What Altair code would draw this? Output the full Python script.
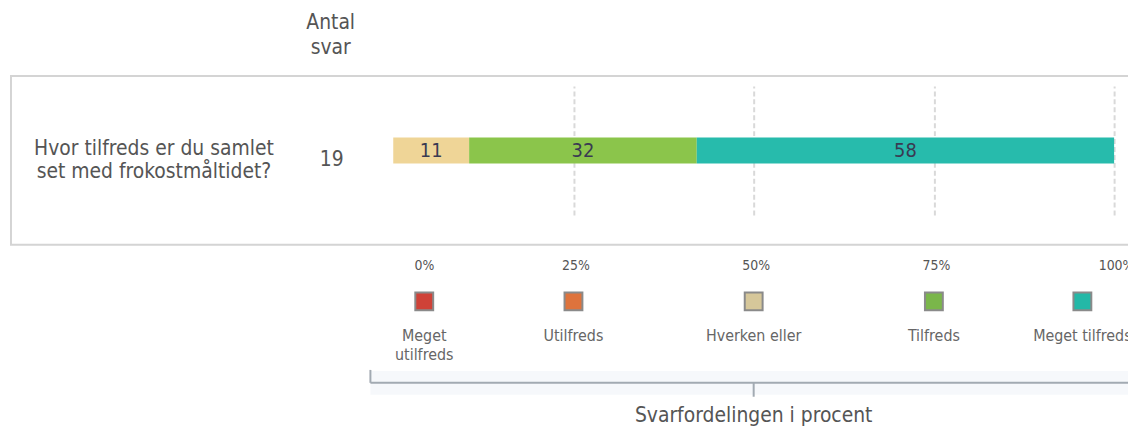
import altair as alt
import pandas as pd

# ---- data ----
question = "Hvor tilfreds er du samlet\nset med frokostmåltidet?"
categories = ["Meget utilfreds", "Utilfreds", "Hverken eller", "Tilfreds", "Meget tilfreds"]
legend_labels = ["Meget\nutilfreds", "Utilfreds", "Hverken eller", "Tilfreds", "Meget tilfreds"]
counts = [0, 0, 2, 6, 11]
bar_colors = ["#d2453a", "#e0733a", "#efd597", "#8bc54b", "#27bbac"]
legend_colors = ["#cf4238", "#de733c", "#d6c79a", "#7ab64a", "#24b8a7"]
tick_values = [0, 25, 50, 75, 100]
header = "Antal\nsvar"
axis_title = "Svarfordelingen i procent"

n_total = sum(counts)
FONT = "DejaVu Sans Condensed, DejaVu Sans"
TXT = "#555555"

df = pd.DataFrame({
    "q": [question] * len(categories),
    "cat": categories,
    "idx": list(range(len(categories))),
    "count": counts,
})
df["pct"] = df["count"] / n_total * 100
df["label"] = df["pct"].round().astype(int).astype(str)

leg_df = pd.DataFrame({
    "cat": categories,
    "label": legend_labels,
    "idx": list(range(len(categories))),
    "color": legend_colors,
})

info_df = pd.DataFrame({"q": [question], "n": [str(n_total)], "h": [header], "t": [axis_title]})

xscale = alt.Scale(domain=[0, 100], nice=False, zero=False)
yscale = alt.Scale(paddingInner=0.5, paddingOuter=1)

xaxis = alt.Axis(
    values=tick_values,
    labelExpr="datum.value + '%'",
    title=None,
    domain=False,
    ticks=False,
    grid=True,
    gridColor="#d9d9d9",
    gridDash=[5, 3],
    gridWidth=2,
    gridOpacity={"condition": {"test": "datum.value == 0", "value": 0}, "value": 1},
    labelOffset={"condition": {"test": "datum.value == 0", "value": 31}, "value": 2},
    labelPadding=55,
    labelBaseline="alphabetic",
    labelFlush=False,
    labelOverlap=False,
    labelBound=False,
    labelFont=FONT,
    labelFontSize=14,
    labelColor=TXT,
)

# frame box
box = alt.Chart(info_df).mark_rect(fillOpacity=0, stroke="#d4d4d4", strokeWidth=2).encode(
    x=alt.value(-385), x2=alt.value(744), y=alt.value(-10), y2=alt.value(160)
)

base = (
    alt.Chart(df)
    .transform_filter("datum.count > 0")
    .transform_stack(stack="pct", groupby=["q"], sort=[alt.SortField("idx", order="ascending")], as_=["x0", "x1"])
    .transform_calculate(mid="(datum.x0 + datum.x1) / 2")
)

bars = base.mark_bar().encode(
    x=alt.X("x0:Q", scale=xscale, axis=xaxis),
    x2="x1:Q",
    y=alt.Y("q:N", scale=yscale, axis=None),
    color=alt.Color("cat:N", scale=alt.Scale(domain=categories, range=bar_colors), legend=None),
)

bar_text = base.mark_text(font=FONT, fontSize=20, color="#3a3a52", baseline="middle", dy=1).encode(
    x=alt.X("mid:Q", scale=xscale),
    y=alt.Y("q:N", scale=yscale, axis=None),
    text="label:N",
)

q_text = alt.Chart(info_df).mark_text(
    font=FONT, fontSize=21, color=TXT, lineBreak="\n", lineHeight=22.5, align="center", baseline="middle"
).encode(x=alt.value(-241), y=alt.value(64), text="q:N")

n_text = alt.Chart(info_df).mark_text(
    font=FONT, fontSize=21, color=TXT, align="center", baseline="middle"
).encode(x=alt.value(-62), y=alt.value(75), text="n:N")

h_text = alt.Chart(info_df).mark_text(
    font=FONT, fontSize=21, color=TXT, lineBreak="\n", lineHeight=25, align="center", baseline="alphabetic"
).encode(x=alt.value(-63), y=alt.value(-57), text="h:N")

leg_base = alt.Chart(leg_df).transform_calculate(
    pos="datum.idx == 0 ? 4.3 : (datum.idx == 4 ? 95.6 : datum.idx * 25)"
)

squares = leg_base.mark_square(size=324, filled=True, opacity=1, stroke="#8a8a8a", strokeWidth=2).encode(
    x=alt.X("pos:Q", scale=xscale),
    y=alt.value(217),
    fill=alt.Fill("color:N", scale=None),
)

leg_text = leg_base.mark_text(
    font=FONT, fontSize=16, color="#666666", lineBreak="\n", lineHeight=19, align="center", baseline="alphabetic"
).encode(x=alt.X("pos:Q", scale=xscale), y=alt.value(257), text="label:N")

band = alt.Chart(info_df).mark_rect(fill="#f6f8fb").encode(
    x=alt.value(-23), x2=alt.value(744), y=alt.value(287), y2=alt.value(311)
)

br_h = alt.Chart(info_df).mark_rule(color="#a2aab2", strokeWidth=2).encode(
    x=alt.value(-23), x2=alt.value(744), y=alt.value(299)
)
br_l = alt.Chart(info_df).mark_rule(color="#a2aab2", strokeWidth=2).encode(
    x=alt.value(-23), y=alt.value(286), y2=alt.value(299)
)
br_c = alt.Chart(info_df).mark_rule(color="#a2aab2", strokeWidth=2).encode(
    x=alt.X(datum=50, scale=xscale), y=alt.value(299), y2=alt.value(313)
)

title_text = alt.Chart(info_df).mark_text(
    font=FONT, fontSize=21, color=TXT, align="center", baseline="middle"
).encode(x=alt.X(datum=50, scale=xscale), y=alt.value(332), text="t:N")

chart = (
    alt.layer(box, bars, bar_text, q_text, n_text, h_text, squares, leg_text, band, br_h, br_l, br_c, title_text)
    .properties(
        width=726,
        height=130,
        padding={"left": 388, "top": 77, "right": 14, "bottom": 216},
        autosize=alt.AutoSizeParams(type="none"),
        background="white",
    )
    .configure_view(stroke=None)
)

chart.save("out.html", embed_options={"renderer": "svg", "actions": False})
